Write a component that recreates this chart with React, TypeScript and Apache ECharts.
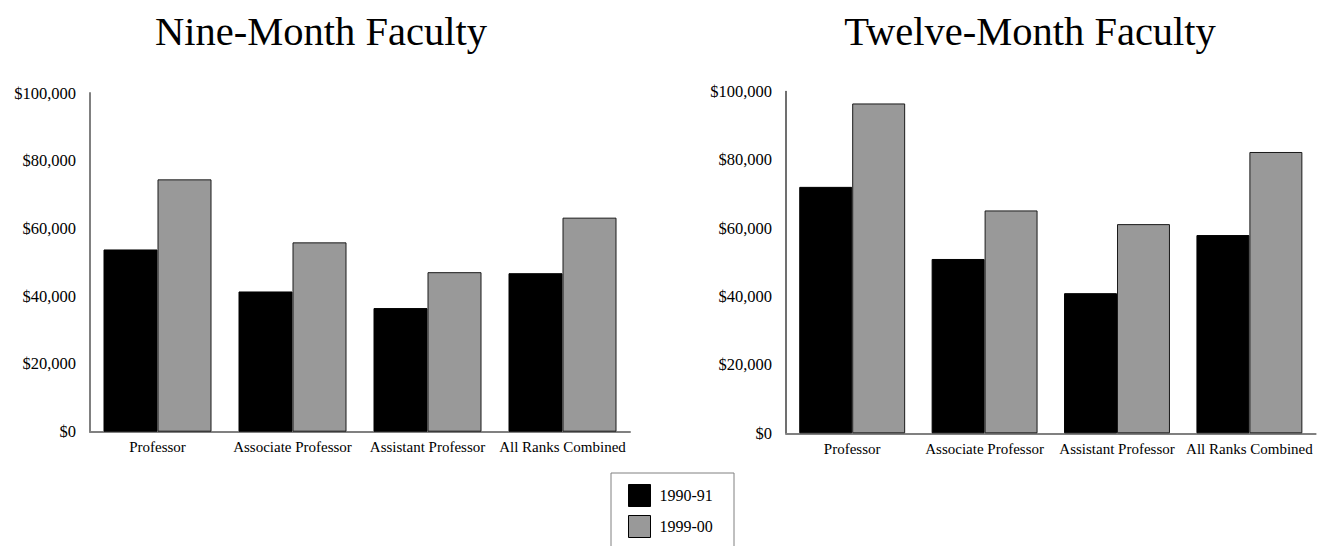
import React, { useEffect, useRef } from "react";
import * as echarts from "echarts";

const categories = ["Professor", "Associate Professor", "Assistant Professor", "All Ranks Combined"];
const seriesNames = ["1990-91", "1999-00"];
const nineMonth1990 = [53800, 41400, 36500, 46800];
const nineMonth1999 = [74500, 55900, 47100, 63200];
const twelveMonth1990 = [72100, 51000, 41000, 58000];
const twelveMonth1999 = [96500, 65200, 61200, 82300];
const titles = ["Nine-Month Faculty", "Twelve-Month Faculty"];
const yMax = 100000;
const yInterval = 20000;

const FONT = "'Liberation Serif', 'Times New Roman', serif";

function fmt(v: number) {
  return "$" + v.toLocaleString("en-US");
}

export default function App() {
  const ref = useRef<HTMLDivElement>(null);
  useEffect(() => {
    if (!ref.current) return;
    const chart = echarts.init(ref.current, null, { renderer: "svg" });
    const yAxisBase = (lineColor: string, lineWidth: number) => ({
      type: "value" as const,
      min: 0,
      max: yMax,
      interval: yInterval,
      splitLine: { show: false },
      axisTick: { show: false },
      axisLine: { show: true, lineStyle: { color: lineColor, width: lineWidth } },
      axisLabel: { color: "#000", fontFamily: FONT, fontSize: 16.5, margin: 14, formatter: fmt },
    });
    const xAxisBase = {
      type: "category" as const,
      data: categories,
      axisTick: { show: false },
      axisLine: { show: true, lineStyle: { color: "#808080", width: 2 } },
      axisLabel: { color: "#000", fontFamily: FONT, fontSize: 15, margin: 8, interval: 0 },
    };
    const blackStyle = { color: "#000000", borderColor: "#000000", borderWidth: 1 };
    const grayStyle = { color: "#999999", borderColor: "#1a1a1a", borderWidth: 1 };
    const mk = (name: string, data: number[], idx: number, style: any) => ({
      type: "bar" as const,
      name,
      data,
      xAxisIndex: idx,
      yAxisIndex: idx,
      barCategoryGap: "20%",
      barGap: "0%",
      itemStyle: style,
    });
    chart.setOption({
      animation: false,
      backgroundColor: "#ffffff",
      title: [
        {
          text: titles[0],
          left: 316,
          top: 6,
          textAlign: "center",
          textStyle: { fontFamily: FONT, fontSize: 40.5, fontWeight: "normal", color: "#000" },
        },
        {
          text: titles[1],
          left: 1025,
          top: 6,
          textAlign: "center",
          textStyle: { fontFamily: FONT, fontSize: 40.5, fontWeight: "normal", color: "#000" },
        },
      ],
      graphic: [
        {
          type: "rect",
          shape: { x: 611, y: 473, width: 123, height: 120 },
          style: { fill: "none", stroke: "#808080", lineWidth: 1 },
          silent: true,
        },
      ],
      legend: {
        data: seriesNames,
        orient: "vertical",
        left: 628,
        top: 484,
        padding: 0,
        itemWidth: 22,
        itemHeight: 22,
        itemGap: 8,
        icon: "rect",
        textStyle: { fontFamily: FONT, fontSize: 16, color: "#000", padding: [0, 0, 0, 4] },
        itemStyle: { borderColor: "#000", borderWidth: 1 },
      },
      grid: [
        { left: 90, top: 93, width: 540, height: 338.7 },
        { left: 786, top: 91.5, width: 529.6, height: 341.8 },
      ],
      xAxis: [
        { ...xAxisBase, gridIndex: 0 },
        { ...xAxisBase, gridIndex: 1 },
      ],
      yAxis: [
        { ...yAxisBase("#808080", 2), gridIndex: 0 },
        { ...yAxisBase("#404040", 1.5), gridIndex: 1 },
      ],
      series: [
        mk(seriesNames[0], nineMonth1990, 0, blackStyle),
        mk(seriesNames[1], nineMonth1999, 0, grayStyle),
        mk(seriesNames[0], twelveMonth1990, 1, blackStyle),
        mk(seriesNames[1], twelveMonth1999, 1, grayStyle),
      ],
    });
    return () => chart.dispose();
  }, []);
  return (
    <div
      ref={ref}
      style={{ position: "fixed", left: 0, top: 0, width: 1325, height: 546, background: "#fff" }}
    />
  );
}
